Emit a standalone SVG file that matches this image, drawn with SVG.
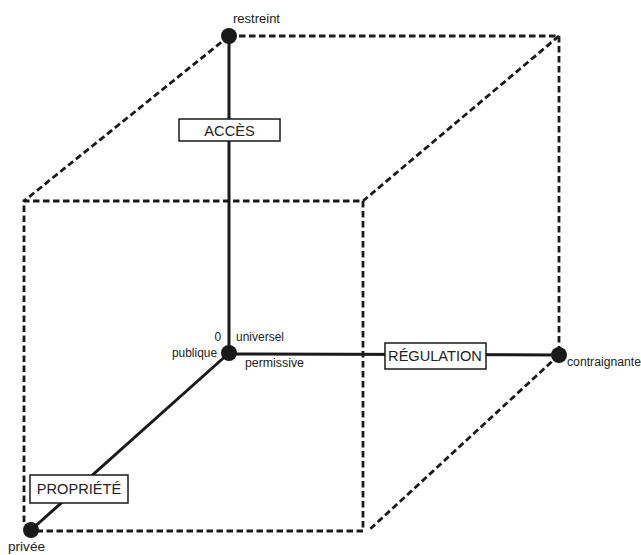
<svg xmlns="http://www.w3.org/2000/svg" width="641" height="555" viewBox="0 0 641 555">
<style>
.dash{fill:none;stroke:#1a1a1a;stroke-width:2.8;stroke-dasharray:6.5 3.5}
.axis{fill:none;stroke:#1a1a1a;stroke-width:3}
.dot{fill:#1a1a1a}
.box{fill:#fff;stroke:#1a1a1a;stroke-width:1.5}
.lbl{font-family:"Liberation Sans",Arial,sans-serif;font-size:12px;fill:#222}
.ttl{font-family:"Liberation Sans",Arial,sans-serif;font-size:14.6px;fill:#222;text-anchor:middle}
</style>
<rect width="641" height="555" fill="#fff"/>
<g id="connectors">
<path class="dash" d="M229,36 L559,36 L559,355"/>
<path class="dash" d="M24,522 L24,201 L363,201 L363,531 L31,531"/>
<path class="dash" d="M229,36 L24,201"/>
<path class="dash" d="M559,36 L363,201"/>
<path class="dash" d="M559,355 L368,531"/>
<path class="axis" d="M229,36 L229,353"/>
<path class="axis" d="M229,354 L559,355"/>
<path class="axis" d="M229,353 L31,530"/>
</g>
<g id="node-restreint">
<circle class="dot" cx="229" cy="36" r="8"/>
<text class="lbl" x="233" y="23" textLength="47" lengthAdjust="spacingAndGlyphs">restreint</text>
</g>
<g id="node-origin">
<circle class="dot" cx="229" cy="353" r="8"/>
<text class="lbl" x="214.5" y="341" font-size="12.5">0</text>
<text class="lbl" x="236" y="341" textLength="48" lengthAdjust="spacingAndGlyphs">universel</text>
<text class="lbl" x="172" y="357" textLength="45" lengthAdjust="spacingAndGlyphs">publique</text>
<text class="lbl" x="245" y="367" textLength="59" lengthAdjust="spacingAndGlyphs">permissive</text>
</g>
<g id="node-contraignante">
<circle class="dot" cx="559" cy="355" r="8"/>
<text class="lbl" x="567" y="366" textLength="74" lengthAdjust="spacingAndGlyphs">contraignante</text>
</g>
<g id="node-privee">
<circle class="dot" cx="31" cy="530" r="8"/>
<text class="lbl" x="8" y="551" textLength="37" lengthAdjust="spacingAndGlyphs">privée</text>
</g>
<g id="label-acces">
<rect class="box" x="179" y="119" width="101" height="22"/>
<text class="ttl" x="229.5" y="136" font-size="15">ACCÈS</text>
</g>
<g id="label-regulation">
<rect class="box" x="385" y="343" width="101" height="26"/>
<text class="ttl" x="435" y="361">RÉGULATION</text>
</g>
<g id="label-propriete">
<rect class="box" x="30" y="475" width="98" height="28"/>
<text class="ttl" x="79" y="494">PROPRIÉTÉ</text>
</g>
</svg>
